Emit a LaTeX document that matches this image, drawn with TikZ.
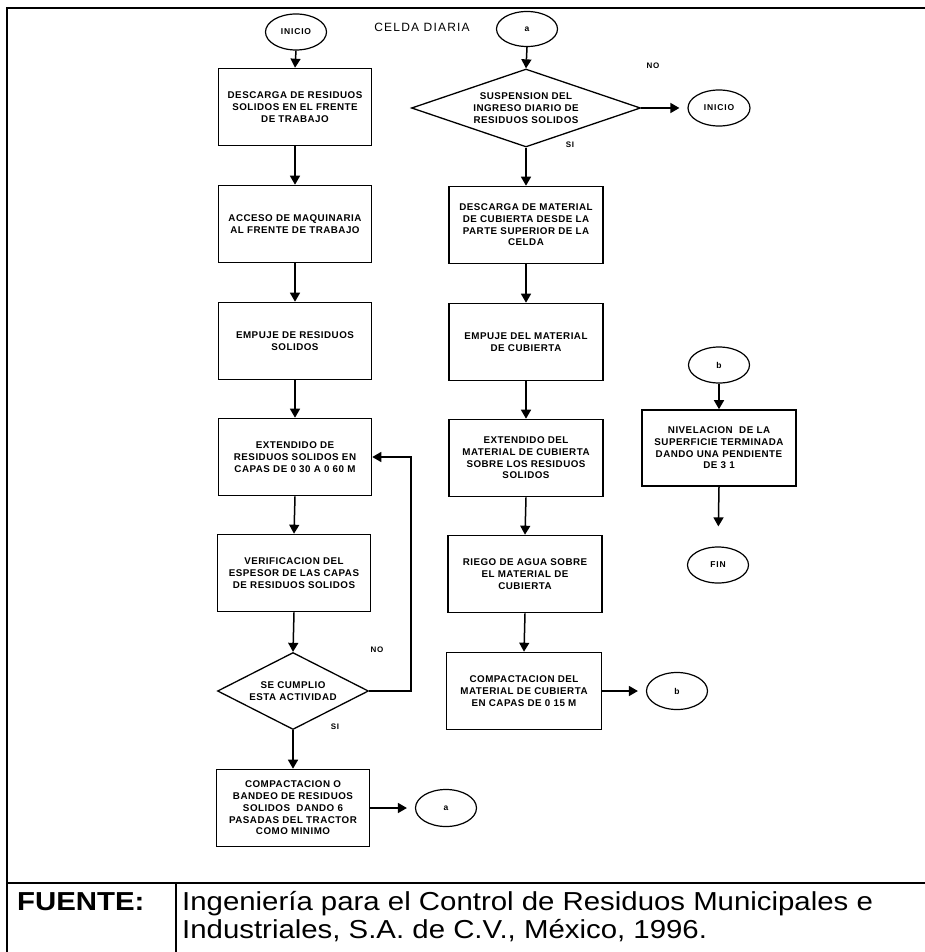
\documentclass[tikz,border=0pt]{standalone}
\usepackage{fontspec}
\setmainfont{Liberation Sans}
\newfontfamily\spfont{Liberation Sans}[LetterSpace=5]
\newfontfamily\smfont{Liberation Sans}[LetterSpace=10]
\newfontfamily\footfont{Liberation Sans}[FakeStretch=1.13]
\usetikzlibrary{shapes.geometric,arrows.meta}
\begin{document}
\begin{tikzpicture}[x=1pt,y=-1pt,
  box/.style={draw,line width=1.6pt,minimum width=153pt,minimum height=77pt,inner sep=0pt,align=center,font=\spfont\bfseries\fontsize{9.8}{11.7}\selectfont},
  oval/.style={draw,ellipse,line width=1.2pt,minimum width=61pt,minimum height=36pt,inner sep=0pt,font=\smfont\bfseries\fontsize{8.5}{9}\selectfont},
  dia/.style={draw,diamond,line width=1.3pt,inner sep=0pt},
  dtxt/.style={align=center,inner sep=0pt,font=\spfont\bfseries\fontsize{9.8}{11.7}\selectfont},
  lbl/.style={inner sep=0pt,font=\smfont\bfseries\fontsize{8}{9}\selectfont},
  arr/.style={line width=1.5pt,-{Triangle[length=9pt,width=10pt]}},
  frame/.style={line width=1.5pt}]
\useasboundingbox (0,0) rectangle (925,952);
% frame
\draw[frame] (925,8) -- (7,8) -- (7,952);
\draw[frame] (7,883) -- (925,883);
\draw[frame] (176,883) -- (176,952);
% title
\node[inner sep=0pt,font=\smfont\fontsize{12}{14}\selectfont] (title) at (422,27) {CELDA DIARIA};
% left column
\node[oval] (i1) at (296,32) {INICIO};
\node[box] (b1) at (295,107) {DESCARGA DE RESIDUOS\\SOLIDOS EN EL FRENTE\\DE TRABAJO};
\node[box] (b2) at (295,224) {ACCESO DE MAQUINARIA\\AL FRENTE DE TRABAJO};
\node[box] (b3) at (295,341) {EMPUJE DE RESIDUOS\\SOLIDOS};
\node[box] (b4) at (295,457) {EXTENDIDO DE\\RESIDUOS SOLIDOS EN\\CAPAS DE 0 30 A 0 60 M};
\node[box] (b5) at (294,573) {VERIFICACION DEL\\ESPESOR DE LAS CAPAS\\DE RESIDUOS SOLIDOS};
\node[dia,minimum width=151pt,minimum height=77pt] (d2) at (293,691) {};
\node[dtxt] (d2t) at (293,691) {SE CUMPLIO\\ESTA ACTIVIDAD};
\node[box] (b6) at (293,808) {COMPACTACION O\\BANDEO DE RESIDUOS\\SOLIDOS\ \ DANDO 6\\PASADAS DEL TRACTOR\\COMO MINIMO};
\node[oval,minimum height=37pt] (a2) at (446,808) {a};
\node[lbl] (no2) at (377,650) {NO};
\node[lbl] (si2) at (335,727) {SI};
% right column
\node[oval,minimum height=35pt] (a1) at (527,29) {a};
\node[dia,minimum width=229pt,minimum height=78pt] (d1) at (526,108) {};
\node[dtxt] (d1t) at (526,108) {SUSPENSION DEL\\INGRESO DIARIO DE\\RESIDUOS SOLIDOS};
\node[oval,minimum width=62pt] (i2) at (719,108) {INICIO};
\node[lbl] (no1) at (653,66) {NO};
\node[lbl] (si1) at (570,145) {SI};
\node[box,minimum width=154pt] (r1) at (526,225) {DESCARGA DE MATERIAL\\DE CUBIERTA DESDE LA\\PARTE SUPERIOR DE LA\\CELDA};
\node[box,minimum width=154pt] (r2) at (526,342) {EMPUJE DEL MATERIAL\\DE CUBIERTA};
\node[box,minimum width=154pt] (r3) at (526,458) {EXTENDIDO DEL\\MATERIAL DE CUBIERTA\\SOBRE LOS RESIDUOS\\SOLIDOS};
\node[box,minimum width=154pt] (r4) at (525,574) {RIEGO DE AGUA SOBRE\\EL MATERIAL DE\\CUBIERTA};
\node[box,minimum width=155pt] (r5) at (524,691) {COMPACTACION DEL\\MATERIAL DE CUBIERTA\\EN CAPAS DE 0 15 M};
\node[oval,minimum height=37pt] (bb1) at (677,691) {b};
% third column
\node[oval] (bb2) at (719,365) {b};
\node[box,minimum width=154pt,minimum height=76pt] (nv) at (719,448) {NIVELACION\ \ DE LA\\SUPERFICIE TERMINADA\\DANDO UNA PENDIENTE\\DE 3 1};
\node[oval] (fin) at (718,565) {FIN};
% connectors
\draw[arr] (i1.south) -- (b1.north);
\draw[arr] (b1.south) -- (b2.north);
\draw[arr] (b2.south) -- (b3.north);
\draw[arr] (b3.south) -- (b4.north);
\draw[arr] (b4.south) -- (b5.north);
\draw[arr] (b5.south) -- (d2.north);
\draw[arr] (d2.south) -- (b6.north);
\draw[arr] (d2.east) -- ++(42,0) |- (b4.east);
\draw[arr,shorten >=8pt] (b6.east) -- (a2.west);
\draw[arr] (a1.south) -- (d1.north);
\draw[arr,shorten >=8pt] (d1.east) -- (i2.west);
\draw[arr] (d1.south) -- (r1.north);
\draw[arr] (r1.south) -- (r2.north);
\draw[arr] (r2.south) -- (r3.north);
\draw[arr] (r3.south) -- (r4.north);
\draw[arr] (r4.south) -- (r5.north);
\draw[arr,shorten >=8pt] (r5.east) -- (bb1.west);
\draw[arr] (bb2.south) -- (nv.north);
\draw[arr,shorten >=20pt] (nv.south) -- (fin.north);
% footer
\node[anchor=base west,inner sep=0pt,font=\footfont\bfseries\fontsize{26}{28}\selectfont] (fuente) at (17,910) {FUENTE:};
\node[anchor=base west,inner sep=0pt,font=\footfont\fontsize{26}{28}\selectfont] (ref1) at (182,910) {Ingeniería para el Control de Residuos Municipales e};
\node[anchor=base west,inner sep=0pt,font=\footfont\fontsize{26}{28}\selectfont] (ref2) at (182,938) {Industriales, S.A. de C.V., México, 1996.};
\end{tikzpicture}
\end{document}
